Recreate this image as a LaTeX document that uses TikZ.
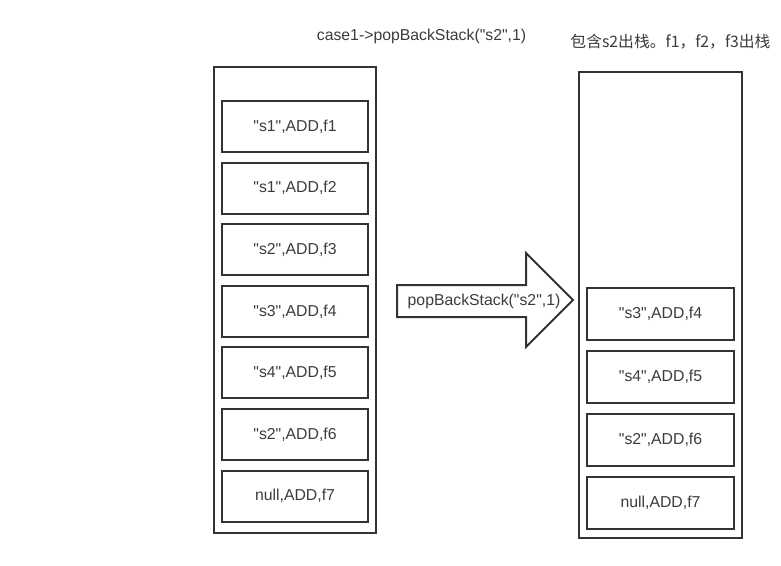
\documentclass[tikz,border=0pt]{standalone}
\usepackage{fontspec}
\setmainfont{Liberation Sans}[Ligatures=TeXOff]
\newfontfamily\cjk{Noto Sans CJK SC}
\definecolor{ln}{HTML}{333333}
\definecolor{tx}{HTML}{3C3C3C}
\begin{document}
\begin{tikzpicture}[x=1pt,y=-1pt,
  outerbox/.style={draw=ln,line width=2pt,minimum width=#1,inner sep=0pt},
  cell/.style={draw=ln,line width=2pt,minimum height=51pt,inner sep=0pt,font=\fontsize{15.8}{18}\selectfont,text=tx},
  lbl/.style={font=\fontsize{15.8}{18}\selectfont,text=tx,inner sep=0pt}]
\useasboundingbox[fill=white] (0,0) rectangle (781,565);
% left stack
\node[outerbox=162pt,minimum height=466pt] (L) at (295,300) {};
\foreach \t/\n [count=\k from 0] in {{"s1",ADD,f1}/l1,{"s1",ADD,f2}/l2,{"s2",ADD,f3}/l3,{"s3",ADD,f4}/l4,{"s4",ADD,f5}/l5,{"s2",ADD,f6}/l6,{null,ADD,f7}/l7}
  \node[cell,minimum width=146pt] (\n) at (295,126.5+61.6*\k) {\t};
% right stack
\node[outerbox=163pt,minimum height=466pt] (R) at (660.5,305) {};
\foreach \t/\n [count=\k from 0] in {{"s3",ADD,f4}/r4,{"s4",ADD,f5}/r5,{"s2",ADD,f6}/r6,{null,ADD,f7}/r7}
  \node[cell,minimum width=147pt,minimum height=52pt] (\n) at (660.5,314+63*\k) {\t};
% titles
\node[lbl] (t1) at (421.5,36) {case1->popBackStack("s2",1)};
\node[lbl,font=\cjk\fontsize{15.8}{18}\selectfont] (t2) at (670.5,42) {包含s2出栈。f1，f2，f3出栈};
% arrow
\draw[draw=ln,line width=2pt,line join=miter,fill=white]
  (397,285) -- (526,285) -- (526,253) -- (573,300) -- (526,347) -- (526,317) -- (397,317) -- cycle;
\node[lbl] (a) at (484,301) {popBackStack("s2",1)};
\end{tikzpicture}
\end{document}
